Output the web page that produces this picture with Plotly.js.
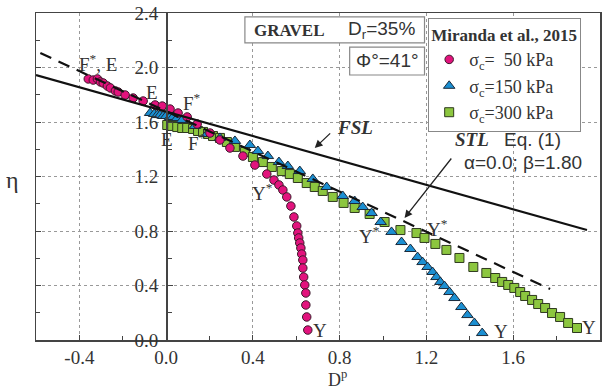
<!DOCTYPE html>
<html>
<head>
<meta charset="utf-8">
<script src="https://cdn.plot.ly/plotly-3.0.1.min.js"></script>
<style>html,body{margin:0;padding:0;background:#fff;}#chart{width:603px;height:390px;}</style>
</head>
<body>
<div id="chart"></div>
<script>
// sigma_c = 50 kPa
const dp50 = [-0.359,-0.336,-0.317,-0.303,-0.290,-0.271,-0.257,-0.234,-0.221,-0.189,-0.152,-0.106,-0.051,-0.018,0.018,0.055,0.097,0.143,0.202,0.248,0.294,0.354,0.409,0.464,0.497,0.520,0.538,0.556,0.575,0.589,0.602,0.607,0.611,0.616,0.621,0.625,0.630,0.630,0.634,0.639,0.644,0.644,0.648,0.653];
const eta50 = [1.916,1.908,1.916,1.894,1.886,1.864,1.850,1.828,1.820,1.798,1.776,1.754,1.725,1.717,1.695,1.666,1.637,1.585,1.519,1.468,1.409,1.350,1.284,1.218,1.174,1.138,1.101,1.050,0.983,0.903,0.837,0.785,0.749,0.712,0.675,0.631,0.587,0.528,0.462,0.404,0.345,0.257,0.169,0.073];
// sigma_c = 150 kPa
const dp150 = [-0.074,-0.055,-0.041,-0.028,-0.014,0.000,0.018,0.032,0.051,0.074,0.133,0.189,0.248,0.317,0.386,0.423,0.469,0.520,0.561,0.616,0.676,0.740,0.814,0.869,0.906,0.947,0.989,1.039,1.085,1.126,1.159,1.182,1.205,1.228,1.246,1.264,1.283,1.306,1.329,1.361,1.389,1.421,1.457];
const eta150 = [1.666,1.659,1.651,1.651,1.644,1.644,1.637,1.637,1.629,1.615,1.571,1.512,1.483,1.461,1.431,1.387,1.350,1.306,1.277,1.240,1.182,1.123,1.057,1.020,0.976,0.932,0.866,0.793,0.719,0.668,0.609,0.572,0.536,0.499,0.462,0.426,0.396,0.352,0.308,0.242,0.183,0.125,0.051];
// sigma_c = 300 kPa
const dp300 = [0.005,0.028,0.051,0.074,0.097,0.124,0.147,0.170,0.193,0.216,0.248,0.280,0.317,0.363,0.400,0.446,0.487,0.533,0.570,0.607,0.648,0.685,0.722,0.768,0.818,0.869,0.938,1.007,1.080,1.154,1.191,1.241,1.292,1.352,1.416,1.476,1.517,1.549,1.577,1.605,1.632,1.655,1.687,1.715,1.747,1.779,1.816,1.853,1.894];
const eta300 = [1.578,1.571,1.563,1.556,1.556,1.549,1.534,1.527,1.512,1.497,1.483,1.453,1.417,1.380,1.343,1.306,1.270,1.240,1.218,1.189,1.152,1.123,1.094,1.050,1.006,0.969,0.925,0.866,0.807,0.785,0.749,0.705,0.661,0.602,0.536,0.492,0.455,0.426,0.404,0.382,0.352,0.323,0.294,0.264,0.235,0.198,0.169,0.125,0.088];
// FSL and STL lines
const fslX = [-0.6, 1.94];
const fslY = [1.945, 0.807];
const stlX = [-0.58, 1.77];
const stlY = [2.106, 0.374];
// axis ticks
const xTicks = [-0.4, 0.0, 0.4, 0.8, 1.2, 1.6, 2.0];
const yTicks = [0.0, 0.4, 0.8, 1.2, 1.6, 2.0, 2.4];
const tickText = v => v.toFixed(1);
const legendNames = ['σ<sub>c</sub>=300 kPa', 'σ<sub>c</sub>=150 kPa', 'σ<sub>c</sub>=\u00a0\u00a050 kPa'];

const serif = 'Liberation Serif';
const sans = 'Liberation Sans';
const ink = '#333';

const traces = [
  {x: dp300, y: eta300, type: 'scatter', mode: 'markers', name: legendNames[0],
   marker: {symbol: 'square', size: 9, color: '#8cc63f', line: {color: '#2f3a1f', width: 1}}},
  {x: dp150, y: eta150, type: 'scatter', mode: 'markers', name: legendNames[1],
   marker: {symbol: 'triangle-up', size: 10, color: '#1b8fd2', line: {color: '#1a2a3a', width: 1}}},
  {x: dp50, y: eta50, type: 'scatter', mode: 'markers', name: legendNames[2],
   marker: {symbol: 'circle', size: 8.5, color: '#e2137d', line: {color: '#3a1a2a', width: 1}}},
  {x: fslX, y: fslY, type: 'scatter', mode: 'lines', showlegend: false, hoverinfo: 'skip',
   line: {color: '#111', width: 2.2}},
  {x: stlX, y: stlY, type: 'scatter', mode: 'lines', showlegend: false, hoverinfo: 'skip',
   line: {color: '#111', width: 2.2, dash: '12px,8px'}}
];

const ann = (x, y, text, extra) => Object.assign({x: x, y: y, xref: 'x', yref: 'y', text: text,
  showarrow: false, font: {family: serif, size: 19, color: ink}}, extra || {});

const annotations = [
  ann(-0.313, 2.03, 'F<sup>*</sup>, E'),
  ann(-0.064, 1.82, 'E'),
  ann(0.12, 1.745, 'F<sup>*</sup>'),
  ann(0.005, 1.468, 'E'),
  ann(0.14, 1.455, 'F<sup>*</sup>'),
  ann(0.446, 1.086, 'Y<sup>*</sup>'),
  ann(0.938, 0.771, 'Y<sup>*</sup>'),
  ann(1.251, 0.822, 'Y<sup>*</sup>'),
  ann(0.708, 0.073, 'Y'),
  ann(1.545, 0.059, 'Y'),
  ann(1.95, 0.095, 'Y'),
  ann(0.869, 1.563, '<b><i>FSL</i></b>'),
  ann(1.324, 1.468, '<b><i>STL</i></b>', {xanchor: 'left'}),
  ann(1.55, 1.468, 'Eq. (1)', {xanchor: 'left', font: {family: sans, size: 19, color: ink}}),
  ann(1.646, 1.30, 'α=0.0; β=1.80', {font: {family: sans, size: 19, color: ink}}),
  {x: 0.685, y: 1.409, ax: 0.763, ay: 1.527, xref: 'x', yref: 'y', axref: 'x', ayref: 'y',
   text: '', showarrow: true, arrowhead: 2, arrowsize: 1.2, arrowwidth: 1.3, arrowcolor: '#222'},
  {x: 1.099, y: 0.895, ax: 1.32, ay: 1.343, xref: 'x', yref: 'y', axref: 'x', ayref: 'y',
   text: '', showarrow: true, arrowhead: 2, arrowsize: 1.2, arrowwidth: 1.3, arrowcolor: '#222'},
  ann(0.57, 2.275, '<b>GRAVEL</b>', {font: {family: serif, size: 17, color: ink}}),
  ann(0.993, 2.275, 'D<sub>r</sub>=35%', {font: {family: sans, size: 19, color: ink}}),
  ann(1.021, 2.048, 'Φ°=41°', {font: {family: sans, size: 19, color: ink}})
];

const shapes = [
  {type: 'rect', xref: 'x', yref: 'y', x0: 0.363, x1: 1.191, y0: 2.18, y1: 2.371,
   fillcolor: '#fff', line: {color: '#888', width: 1.2}, layer: 'above'},
  {type: 'rect', xref: 'x', yref: 'y', x0: 0.846, x1: 1.191, y0: 1.945, y1: 2.15,
   fillcolor: '#fff', line: {color: '#888', width: 1.2}, layer: 'above'}
];

const layout = {
  width: 603, height: 390,
  margin: {l: 36, r: 3, t: 13, b: 50},
  paper_bgcolor: '#fff', plot_bgcolor: '#fff',
  font: {family: serif, size: 19, color: ink},
  showlegend: true,
  legend: {x: 0.695, y: 0.985, xanchor: 'left', yanchor: 'top', traceorder: 'reversed',
    bgcolor: '#fff', bordercolor: '#888', borderwidth: 1.2,
    font: {family: serif, size: 18, color: ink}, tracegroupgap: 0, itemwidth: 30,
    title: {text: '<b>Miranda et al., 2015</b>', side: 'top', font: {family: serif, size: 17, color: ink}}},
  xaxis: {range: [-0.6, 2.0], tickvals: xTicks, ticktext: xTicks.map(tickText),
    ticks: 'inside', ticklen: 5, tickcolor: '#444',
    minor: {dtick: 0.2, tick0: 0, ticks: 'inside', ticklen: 4, tickcolor: '#444', showgrid: false},
    showgrid: true, gridcolor: '#999', griddash: 'dot', gridwidth: 1,
    zeroline: false, showline: true, linecolor: '#444', linewidth: 1.5, mirror: true,
    tickfont: {family: serif, size: 19, color: ink}},
  yaxis: {range: [0, 2.4], tickvals: yTicks, showticklabels: false,
    ticks: 'inside', ticklen: 5, tickcolor: '#444',
    minor: {dtick: 0.2, tick0: 0, ticks: 'inside', ticklen: 4, tickcolor: '#444', showgrid: false},
    showgrid: true, gridcolor: '#999', griddash: 'dot', gridwidth: 1,
    zeroline: false, showline: true, linecolor: '#444', linewidth: 1.5, mirror: true},
  yaxis2: {range: [0, 2.4], overlaying: 'y', anchor: 'free', position: 0.23077, side: 'left',
    tickvals: yTicks, ticktext: yTicks.map(tickText), ticks: 'inside', ticklen: 5, tickcolor: '#444',
    minor: {dtick: 0.2, tick0: 0, ticks: 'inside', ticklen: 4, tickcolor: '#444', showgrid: false},
    showgrid: false, zeroline: false, showline: true, linecolor: '#444', linewidth: 1.5,
    ticklabelstandoff: 4,
    tickfont: {family: serif, size: 19, color: ink}},
  annotations: annotations.concat([
    {xref: 'paper', yref: 'paper', x: -0.041, y: 0.49, xanchor: 'center', yanchor: 'middle',
     text: 'η', showarrow: false, font: {family: serif, size: 24, color: ink}},
    {xref: 'paper', yref: 'paper', x: 0.535, y: -0.117, xanchor: 'center', yanchor: 'middle',
     text: 'D<sup>p</sup>', showarrow: false, font: {family: serif, size: 18, color: ink}}
  ]),
  shapes: shapes
};

// dummy trace to activate yaxis2 without drawing marks
traces.push({x: [null], y: [null], yaxis: 'y2', type: 'scatter', mode: 'markers', showlegend: false, hoverinfo: 'skip'});

Plotly.newPlot('chart', traces, layout, {displayModeBar: false, staticPlot: true});
</script>
</body>
</html>
